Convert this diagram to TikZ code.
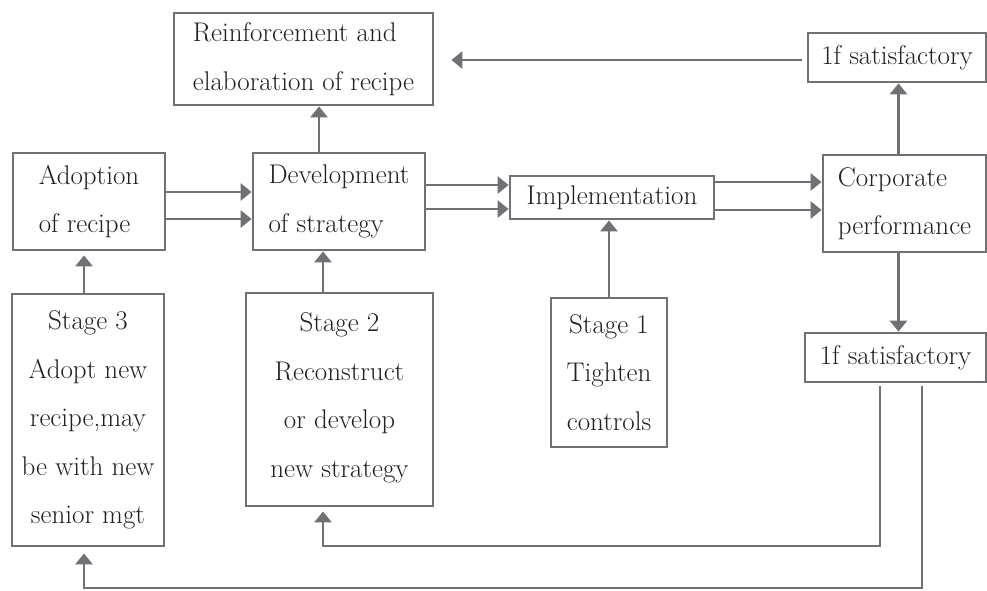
\documentclass[tikz,border=0pt]{standalone}
\usetikzlibrary{arrows.meta,calc}
\definecolor{linegray}{RGB}{112,113,117}
\definecolor{ink}{RGB}{35,31,32}
\begin{document}
\begin{tikzpicture}[x=1pt,y=1pt,
  box/.style={draw=linegray, line width=2.8pt, inner sep=0pt, text=ink,
    font=\fontsize{27}{48.5}\selectfont},
  txt/.style={inner sep=0pt, text=ink, font=\fontsize{27}{48.5}\selectfont},
  wire/.style={draw=linegray, line width=2.8pt},
  arr/.style={wire, -{Triangle[length=11pt,width=17pt]}}
]
\fill[white] (0,0) rectangle (987,-590);
\useasboundingbox (0,0) rectangle (987,-590);

% boxes
\node[box, minimum width=259, minimum height=92, align=left] (reinf) at (303.5,-59)
  {Reinforcement and\\elaboration of recipe};
\node[box, minimum width=152, minimum height=97, align=left] (adopt) at (89,-201.5)
  {Adoption\\of recipe};
\node[box, minimum width=172, minimum height=97, align=left] (dev) at (339,-201.5)
  {Development\\of strategy};
\node[box, minimum width=204, minimum height=43] (impl) at (612,-197.5)
  {Implementation};
\node[box, minimum width=163, minimum height=97, align=left] (corp) at (904.5,-203.5)
  {Corporate\\performance};
\node[box, minimum width=178, minimum height=49] (sat1) at (897,-57.5)
  {1f satisfactory};
\node[box, minimum width=181, minimum height=49] (sat2) at (895.5,-357.5)
  {1f satisfactory};
\node[box, minimum width=152, minimum height=252, align=center] (s3) at (88,-420)
  {Stage 3\\Adopt new\\recipe,may\\be with new\\senior mgt};
\node[box, minimum width=187, minimum height=213] (s2) at (339.5,-399.5) {};
\node[txt, align=center, anchor=north] (s2t) at ([yshift=-21]s2.north)
  {Stage 2\\Reconstruct\\or develop\\new strategy};
\node[box, minimum width=116, minimum height=149, align=center] (s1) at (609,-372.5)
  {Stage 1\\Tighten\\controls};

% main flow
\draw[arr] ([yshift=9.5]adopt.east) -- ([yshift=9.5]adopt.east -| dev.west);
\draw[arr] ([yshift=-17.5]adopt.east) -- ([yshift=-17.5]adopt.east -| dev.west);
\draw[arr] ([yshift=16.5]dev.east) -- ([yshift=16.5]dev.east -| impl.west);
\draw[arr] ([yshift=-7.5]dev.east) -- ([yshift=-7.5]dev.east -| impl.west);
\draw[arr] ([yshift=15.5]impl.east) -- ([yshift=15.5]impl.east -| corp.west);
\draw[arr] ([yshift=-12.5]impl.east) -- ([yshift=-12.5]impl.east -| corp.west);

% upward and feedback arrows
\draw[arr] ([xshift=-20]dev.north) -- ([xshift=-20]dev.north |- reinf.south);
\draw[arr, shorten <=5pt, shorten >=17pt] ([yshift=-2.5]sat1.west) -- ([yshift=-2.5]sat1.west -| reinf.east);
\draw[arr] ([xshift=-6]corp.north) -- ([xshift=-6]corp.north |- sat1.south);
\draw[arr] ([xshift=-6]corp.south) -- ([xshift=-6]corp.south |- sat2.north);
\draw[arr, shorten >=4pt] ([xshift=-4]s3.north) -- ([xshift=-4]s3.north |- adopt.south);
\draw[arr] ([xshift=-16.5]s2.north) -- ([xshift=-16.5]s2.north |- dev.south);
\draw[arr] (s1.north) -- (s1.north |- impl.south);

% loops back to the stage boxes
\coordinate (loopA) at (0,-546);
\coordinate (loopB) at (0,-588);
\draw[arr, shorten >=4pt] ([xshift=-15.5,yshift=-3]sat2.south)
  -- ([xshift=-15.5]sat2.south |- loopA)
  -- ([xshift=-16.5]s2.south |- loopA)
  -- ([xshift=-16.5]s2.south);
\draw[arr, shorten >=6pt] ([xshift=26.5,yshift=-3]sat2.south)
  -- ([xshift=26.5]sat2.south |- loopB)
  -- ([xshift=-4]s3.south |- loopB)
  -- ([xshift=-4]s3.south);
\end{tikzpicture}
\end{document}
